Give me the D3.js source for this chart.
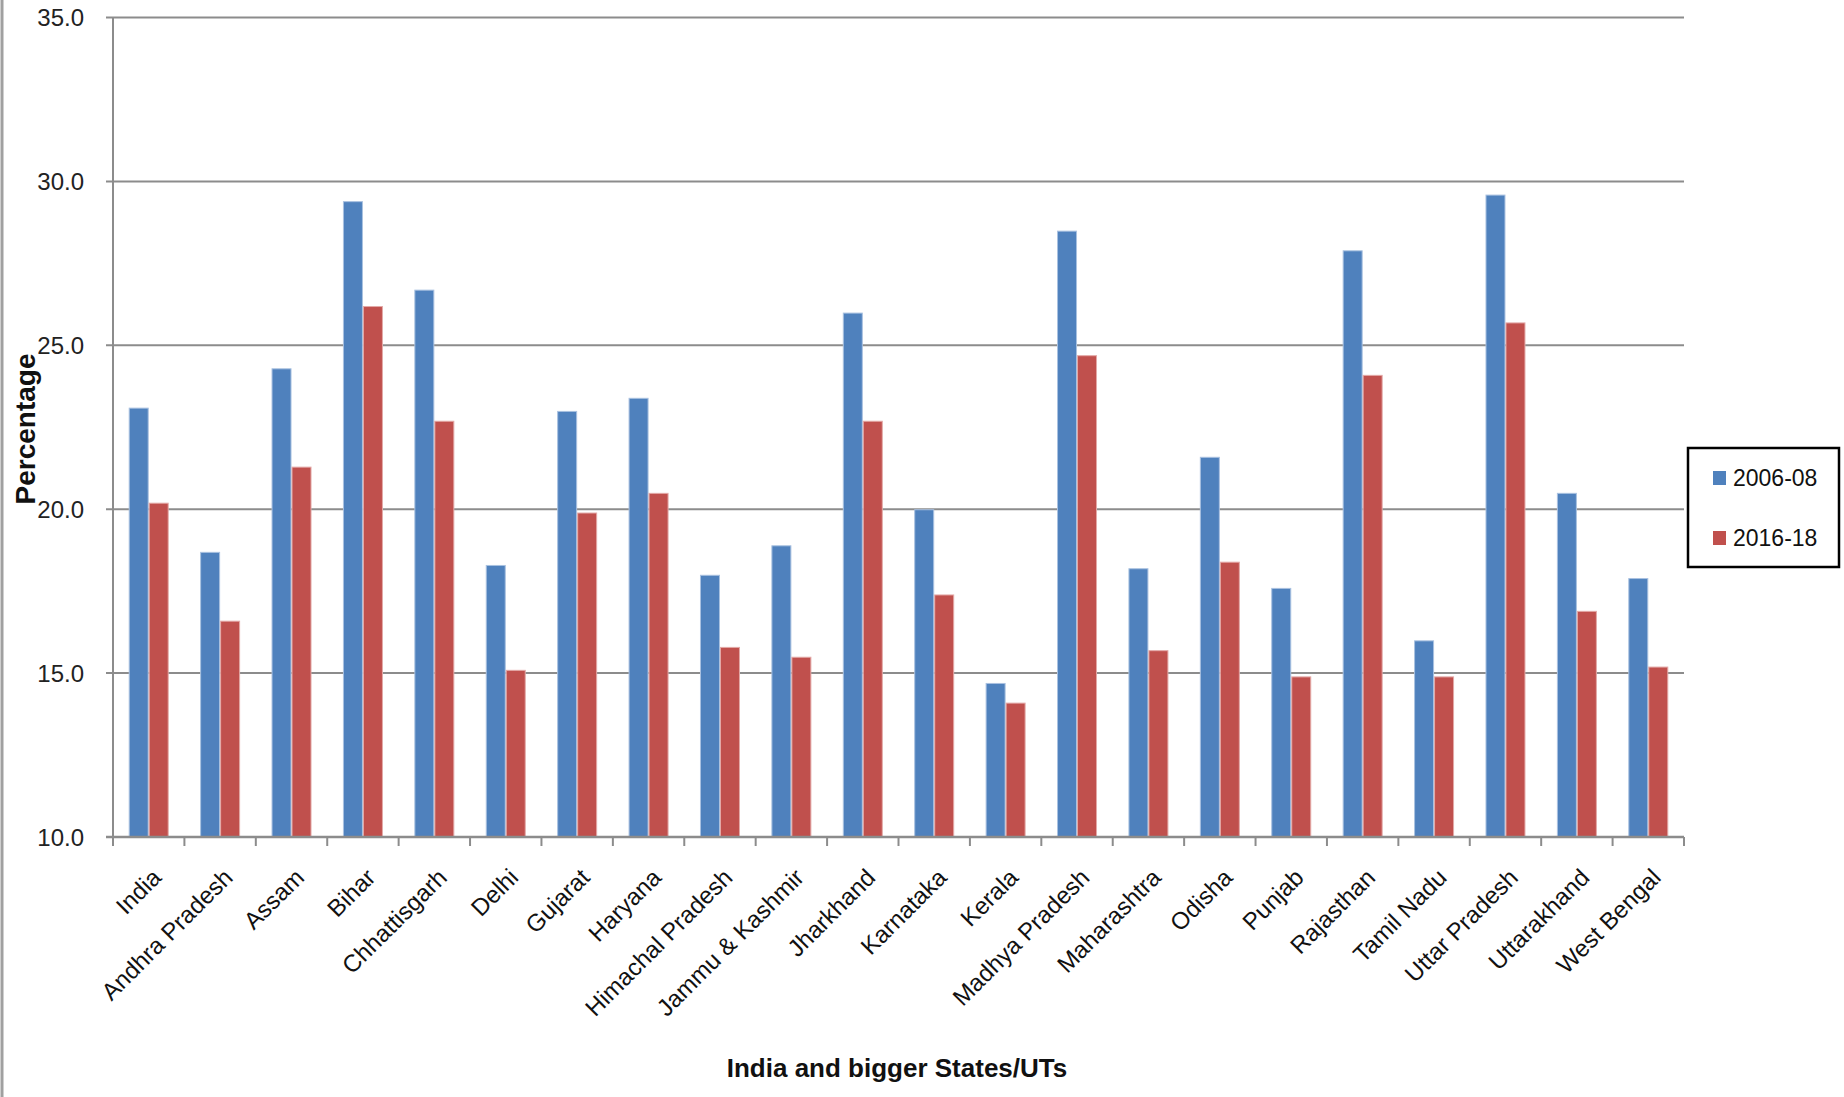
<!DOCTYPE html>
<html>
<head>
<meta charset="utf-8">
<script src="https://cdn.jsdelivr.net/npm/d3@7"></script>
<style>
  body { margin: 0; background: #fff; }
  svg { display: block; }
</style>
</head>
<body>
<svg width="1844" height="1097"></svg>
<script>
const states = ["India", "Andhra Pradesh", "Assam", "Bihar", "Chhattisgarh", "Delhi", "Gujarat",
  "Haryana", "Himachal Pradesh", "Jammu & Kashmir", "Jharkhand", "Karnataka", "Kerala",
  "Madhya Pradesh", "Maharashtra", "Odisha", "Punjab", "Rajasthan", "Tamil Nadu",
  "Uttar Pradesh", "Uttarakhand", "West Bengal"];
const seriesNames = ["2006-08", "2016-18"];
const values0608 = [23.1, 18.7, 24.3, 29.4, 26.7, 18.3, 23.0, 23.4, 18.0, 18.9, 26.0, 20.0, 14.7,
  28.5, 18.2, 21.6, 17.6, 27.9, 16.0, 29.6, 20.5, 17.9];
const values1618 = [20.2, 16.6, 21.3, 26.2, 22.7, 15.1, 19.9, 20.5, 15.8, 15.5, 22.7, 17.4, 14.1,
  24.7, 15.7, 18.4, 14.9, 24.1, 14.9, 25.7, 16.9, 15.2];
const yTicks = [10, 15, 20, 25, 30, 35];

const colors = ["#4f81bd", "#c0504d"];
const edges = ["#a9c1e0", "#e3a9a7"];
const gridColor = "#8c8c8c";
const font = "'Liberation Sans', Arial, sans-serif";

const svg = d3.select("svg");

const plotLeft = 113, plotRight = 1684, plotTop = 17.6, plotBottom = 837;

const x = d3.scaleBand()
    .domain(states)
    .range([plotLeft, plotRight]);

const xInner = d3.scaleBand()
    .domain(seriesNames)
    .range([0, x.bandwidth() * 0.56]);

const y = d3.scaleLinear()
    .domain([10, 35])
    .range([plotBottom, plotTop]);

// chart border on the left
svg.append("line")
    .attr("x1", 2).attr("x2", 2)
    .attr("y1", 0).attr("y2", 1097)
    .attr("stroke", "#a0a0a0")
    .attr("stroke-width", 3);

// gridlines
svg.append("g").selectAll("line").data(yTicks)
  .enter().append("line")
    .attr("x1", plotLeft - 7)
    .attr("x2", plotRight)
    .attr("y1", d => y(d))
    .attr("y2", d => y(d))
    .attr("stroke", gridColor)
    .attr("stroke-width", 2);

svg.append("g").selectAll("text").data(yTicks)
  .enter().append("text")
    .attr("x", 84)
    .attr("y", d => y(d))
    .attr("dy", "0.36em")
    .attr("text-anchor", "end")
    .attr("font-family", font)
    .attr("font-size", 24)
    .attr("fill", "#222")
    .text(d => d.toFixed(1));

// bars
const data = states.map((s, i) => ({ state: s, vals: [values0608[i], values1618[i]] }));
const offset = (x.bandwidth() - xInner.range()[1]) / 2;

const groups = svg.append("g").selectAll("g").data(data)
  .enter().append("g")
    .attr("transform", d => `translate(${x(d.state) + offset},0)`);

groups.selectAll("rect")
  .data(d => d.vals.map((v, k) => ({ key: seriesNames[k], v: v, k: k })))
  .enter().append("rect")
    .attr("x", d => xInner(d.key) + 0.5)
    .attr("width", xInner.bandwidth() - 1)
    .attr("y", d => y(d.v) + 0.5)
    .attr("height", d => plotBottom - y(d.v) - 0.5)
    .attr("fill", d => colors[d.k])
    .attr("stroke", d => edges[d.k])
    .attr("stroke-width", 1);

// axis lines
svg.append("line")
    .attr("x1", plotLeft).attr("x2", plotLeft)
    .attr("y1", plotTop).attr("y2", plotBottom)
    .attr("stroke", gridColor).attr("stroke-width", 2);

svg.append("line")
    .attr("x1", plotLeft - 7).attr("x2", plotRight)
    .attr("y1", plotBottom).attr("y2", plotBottom)
    .attr("stroke", gridColor).attr("stroke-width", 2.5);

// x ticks at category boundaries
const boundaries = states.map(s => x(s)).concat([plotRight]);
svg.append("g").selectAll("line").data(boundaries)
  .enter().append("line")
    .attr("x1", d => d).attr("x2", d => d)
    .attr("y1", plotBottom).attr("y2", plotBottom + 9)
    .attr("stroke", gridColor).attr("stroke-width", 2);

// x labels
svg.append("g").selectAll("text").data(states)
  .enter().append("text")
    .attr("transform", d => `translate(${x(d) + x.bandwidth() / 2 + 14},${plotBottom + 42}) rotate(-45)`)
    .attr("text-anchor", "end")
    .attr("font-family", font)
    .attr("font-size", 24)
    .attr("fill", "#111")
    .text(d => d);

// axis titles
svg.append("text")
    .attr("x", 897)
    .attr("y", 1077)
    .attr("text-anchor", "middle")
    .attr("font-family", font)
    .attr("font-weight", "bold")
    .attr("font-size", 26)
    .attr("fill", "#111")
    .text("India and bigger States/UTs");

svg.append("text")
    .attr("transform", "translate(35,429) rotate(-90)")
    .attr("text-anchor", "middle")
    .attr("font-family", font)
    .attr("font-weight", "bold")
    .attr("font-size", 28)
    .attr("fill", "#111")
    .text("Percentage");

// legend
const legend = svg.append("g");
legend.append("rect")
    .attr("x", 1688).attr("y", 448)
    .attr("width", 151).attr("height", 119)
    .attr("fill", "#fff")
    .attr("stroke", "#000")
    .attr("stroke-width", 2.5);

const items = legend.selectAll("g.item").data(seriesNames)
  .enter().append("g")
    .attr("class", "item")
    .attr("transform", (d, i) => `translate(1713,${478 + i * 60})`);

items.append("rect")
    .attr("x", 0).attr("y", -7)
    .attr("width", 13).attr("height", 14)
    .attr("fill", (d, i) => colors[i]);

items.append("text")
    .attr("x", 20)
    .attr("dy", "0.36em")
    .attr("font-family", font)
    .attr("font-size", 23)
    .attr("fill", "#111")
    .text(d => d);
</script>
</body>
</html>
